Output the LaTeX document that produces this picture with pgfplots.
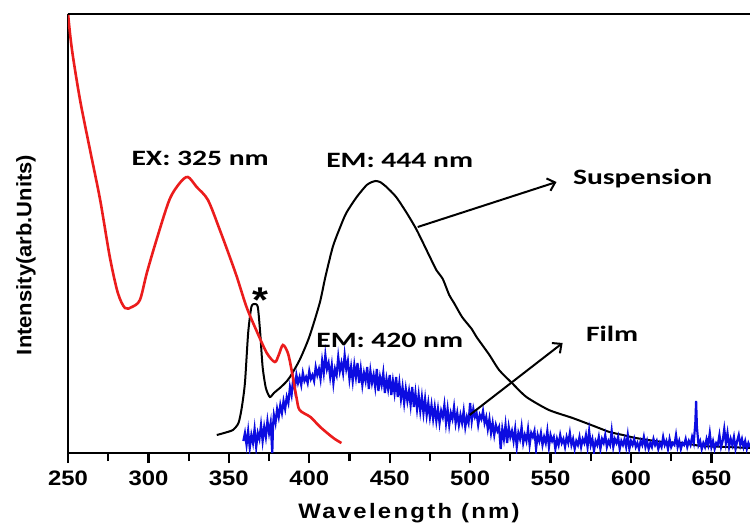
\documentclass[border=0pt]{standalone}
\usepackage{fontspec}
\setmainfont{Liberation Sans}
\newfontfamily\tickfont{Liberation Sans}[FakeStretch=1.14]
\newfontfamily\labfont{Liberation Sans}[FakeStretch=1.14,LetterSpace=11]
\newfontfamily\ylabfont{Liberation Sans}[FakeStretch=1.05]
\newfontfamily\annfont{Carlito}[FakeStretch=1.35]
\usepackage{pgfplots}
\pgfplotsset{compat=1.18}
\usetikzlibrary{arrows.meta}
\definecolor{exred}{RGB}{235,28,28}
\definecolor{filmblue}{RGB}{12,12,225}
\begin{document}
\begin{tikzpicture}
\begin{axis}[
  name=ax, at={(0bp,0bp)}, anchor=south west,
  scale only axis, width=682bp, height=439bp,
  xmin=250, xmax=674, ymin=0, ymax=439,
  axis x line=bottom, axis y line=left,
  axis line style={-, line width=2.8bp, black},
  xtick={250,300,350,400,450,500,550,600,650},
  xticklabels={250,300,350,400,450,500,550,600,650},
  xtick align=outside,
  ytick=\empty,
  major tick length=9bp,
  tick style={black, line width=2.2bp},
  xticklabel style={font={\fontsize{21}{24}\tickfont\bfseries}, anchor=north, yshift=-5bp},
  xlabel={Wavelength (nm)},
  xlabel style={font={\fontsize{21}{24}\labfont\bfseries}, at={(axis description cs:0.5,0)}, anchor=base, yshift=-65bp},
  ylabel={Intensity(arb.Units)},
  ylabel style={font={\fontsize{21}{24}\ylabfont\bfseries}, at={(axis description cs:-0.0616,0.451)}, anchor=center},
]
% Suspension emission (black)
\addplot[black, line width=2bp, smooth, tension=0.4] coordinates {
(342.5,18) (347,20) (352.5,23) (356,30) (358,45) (360,70) (362,120) (364,146) (366,149) (368,146)
(369.5,120) (371,86) (373,65) (375.5,56) (378,60) (381.7,65) (385,70) (388,76) (394,93) (400,116)
(406.5,150) (410,176) (414.6,206) (419,225) (423,240) (429.5,256) (435.7,268) (439,271) (441,272) (444,271)
(448,266) (454,256) (460.6,240) (466.8,223) (475,196) (479,183) (483,174) (487,158) (490,150) (495,136)
(501,124) (504,116) (512,98) (518,83) (526,70) (535,56) (549,43) (563.7,35) (578.5,26) (586.6,21)
(595,18) (603,15) (619.6,11) (632,10) (644,7) (660,6) (674,5)
};
% Film emission (blue)
\addplot[filmblue, line width=2.2bp] coordinates {
(359,12) (360,20) (361,8) (362,22) (363,5) (364,18) (365,10) (366,24) (367,6) (368,20) (369,14) (370,28)
(371,12) (372,26) (373,16) (374,32) (375,20) (376,30) (377,0) (377.5,28) (378,38) (379,30) (380,44)
(381,36) (382,48) (383,40) (384,52) (385,44) (386,56) (387,50) (388,66) (389,58) (390,74) (391,64)
(392,78) (393,70) (394,76) (395,68) (396,80) (397,72) (398,76) (399,70) (400,82) (401,74) (402,78)
(403,72) (404,86) (405,78) (406,84) (407,74) (408,92) (409,80) (410,98) (411,84) (412,90) (413,76)
(414,88) (415,70) (416,84) (417,78) (418,96) (419,82) (420,90) (421,80) (422,98) (423,84) (424,92)
(425,74) (426,86) (427,72) (428,88) (429,76) (430,90) (431,70) (432,84) (433,68) (434,80) (435,72)
(436,86) (437,64) (438,82) (439,70) (440,78) (441,66) (442,84) (443,62) (444,76) (445,68) (446,80)
(447,60) (448,74) (449,64) (450,78) (451,58) (452,72) (453,60) (454,76) (455,56) (456,70) (457,54)
(458,66) (459,50) (460,64) (461,52) (462,62) (463,48) (464,66) (465,46) (466,60) (467,44) (468,58)
(469,42) (470,56) (471,40) (472,54) (473,38) (474,50) (475,36) (476,48) (477,34) (478,46) (479,32)
(480,44) (481,30) (482,42) (483,36) (484,48) (485,30) (486,44) (487,28) (488,40) (489,34) (490,46)
(491,30) (492,40) (493,28) (494,38) (495,30) (496,42) (497,26) (498,36) (499,30) (500,50) (501,32)
(502,44) (503,36) (504,40) (505,28) (506,38) (507,34) (508,42) (509,30) (510,36) (511,24) (512,34)
(513,20) (514,30) (515,18) (516,28) (517,22) (518,26) (519,4) (520,24) (521,14) (522,28) (523,10)
(524,26) (525,16) (526,22) (527,12) (528,24) (529,6) (530,20) (531,14) (532,26) (533,10) (534,18)
(535,12) (536,24) (537,8) (538,20) (539,16) (540,22) (541,4) (542,18) (543,12) (544,20) (545,8)
(546,16) (547,10) (548,22) (549,6) (550,18) (551,12) (552,16) (553,4) (554,14) (555,8) (556,18)
(557,10) (558,14) (559,6) (560,16) (561,10) (562,20) (563,8) (564,14) (565,4) (566,12) (567,8)
(568,16) (569,6) (570,14) (571,10) (572,18) (573,6) (574,22) (575,8) (576,14) (577,2) (578,12)
(579,8) (580,16) (581,4) (582,14) (583,10) (584,18) (585,6) (586,12) (587,8) (588,22) (589,6)
(590,14) (591,10) (592,16) (593,4) (594,12) (595,8) (596,14) (597,6) (598,18) (599,4) (600,12)
(601,8) (602,14) (603,6) (604,10) (605,4) (606,12) (607,8) (608,16) (609,6) (610,12) (611,4)
(612,10) (613,6) (614,14) (615,8) (616,12) (617,4) (618,10) (619,6) (620,16) (621,8) (622,12)
(623,4) (624,14) (625,6) (626,10) (627,8) (628,18) (629,6) (630,12) (631,4) (632,10) (633,8)
(634,14) (635,6) (636,12) (637,8) (638,16) (639,10) (640,30) (640.5,52) (641,26) (642,8) (643,12)
(644,4) (645,10) (646,6) (647,14) (648,8) (649,20) (650,6) (651,12) (652,4) (653,10) (654,8)
(655,18) (656,6) (657,12) (658,24) (659,10) (660,20) (661,6) (662,14) (663,8) (664,16) (665,4)
(666,12) (667,18) (668,8) (669,14) (670,6) (671,12) (672,4) (673,10) (674,6)
};
% Excitation (red)
\addplot[exred, line width=2.6bp, smooth, tension=0.5] coordinates {
(249.5,460) (250,440) (252.5,403) (257.5,353) (263.7,303) (270,253) (276,196) (281,160) (285.4,145)
(289.7,146) (294.7,153) (299,180) (305,213) (313,253) (319.5,270) (324.5,276) (330,266) (337,253)
(344.4,223) (350.6,196) (355,176) (361,146) (367,123) (373.6,100) (378.6,91) (381,98) (383.6,108)
(386.7,100) (389,83) (392,56) (394,43) (400.7,36) (406.8,26) (415,15) (420,10)
};
% annotations
\node[anchor=base west, font={\fontsize{22}{26}\annfont\bfseries}] at (axis cs:287.3,287) {EX: 325 nm};
\node[anchor=base west, font={\fontsize{22}{26}\annfont\bfseries}] at (axis cs:408.4,285) {EM: 444 nm};
\node[anchor=base west, font={\fontsize{22}{26}\annfont\bfseries}] at (axis cs:561.8,268) {Suspension};
\node[anchor=base west, font={\fontsize{22}{26}\annfont\bfseries}] at (axis cs:569.9,111) {Film};
\node[anchor=base west, font={\fontsize{22}{26}\annfont\bfseries}] at (axis cs:402.2,105) {EM: 420 nm};
\node[anchor=center, font={\fontsize{36}{38}\tickfont\bfseries}] at (axis cs:369.9,153) {*};
\draw[line width=2bp, -{Straight Barb[length=7bp,width=13bp,line width=2bp]}] (axis cs:467.4,226) -- (axis cs:553.7,271);
\draw[line width=2bp, -{Straight Barb[length=7bp,width=13bp,line width=2bp]}] (axis cs:499.7,38) -- (axis cs:557.5,110);
\draw[line width=2.8bp, black] (rel axis cs:0,1) -- (rel axis cs:1,1);
\end{axis}
% tick marks as rules, placed below the axis line (origin = lower left corner of the axis)
\foreach \tk in {250,300,350,400,450,500,550,600,650}{
  \node[anchor=north, inner sep=0pt, outer sep=0pt] at ({(\tk-250)*1.60849bp},0bp) {\rule{2.2bp}{10bp}};
}
\foreach \tk in {275,325,375,425,475,525,575,625}{
  \node[anchor=north, inner sep=0pt, outer sep=0pt] at ({(\tk-250)*1.60849bp},0bp) {\rule{2.2bp}{8bp}};
}
\pgfresetboundingbox
\path (-68bp,-70bp) rectangle (682bp,453bp);
\end{tikzpicture}
\end{document}
